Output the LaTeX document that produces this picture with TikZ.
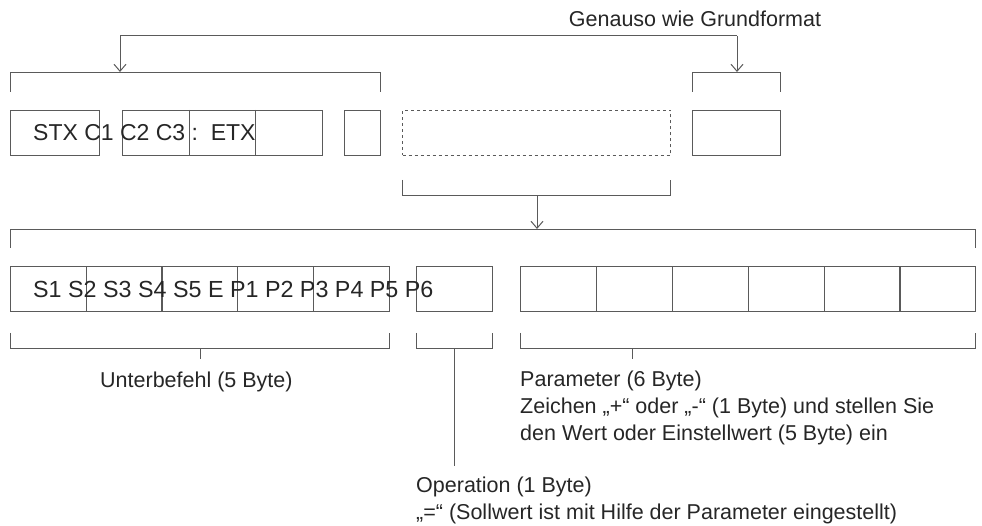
\documentclass[tikz,border=0pt]{standalone}
\usepackage{fontspec}
\setmainfont{Liberation Sans}
\usetikzlibrary{positioning,arrows.meta}
\definecolor{linegray}{RGB}{90,90,90}
\tikzset{
  cell/.style={draw=linegray, line width=1pt, minimum height=45pt, inner sep=0pt, anchor=north west},
  brk/.style={draw=linegray, line width=1pt},
  pfeil/.style={brk, -{Straight Barb[length=7pt,width=12pt]}},
  lbl/.style={font=\fontsize{21.5}{27}\selectfont, inner sep=0pt, align=left, text=black!85}
}
\begin{document}
\begin{tikzpicture}[x=1pt,y=-1pt]
  \useasboundingbox (0,0) rectangle (982,526);
  % upper row
  \node[cell, minimum width=89pt] (stx) at (10,110) {};
  \node[cell, minimum width=200pt] (cmd) at (122,110) {};
  \node[cell, minimum width=36pt] (bcc) at (344,110) {};
  \node[cell, minimum width=268pt, dashed] (ins) at (402,110) {};
  \node[cell, minimum width=88pt] (crc) at (692,110) {};
  \draw[brk] (189,110) -- (189,155) (255,110) -- (255,155);
  \node[lbl, font=\fontsize{23}{26}\selectfont, anchor=west] (txtA) at (33,133) {STX C1 C2 C3 :\ \ ETX};
  % brackets above upper row
  \coordinate (a1) at (120,36);
  \coordinate (a2) at (737,36);
  \draw[brk] (10,92) -- (10,73) -- (380,73) -- (380,92);
  \draw[brk] (692,92) -- (692,73) -- (780,73) -- (780,92);
  \draw[brk] (a1) -- (a2);
  \draw[pfeil] (a1) -- (120,72);
  \draw[pfeil] (a2) -- (737,72);
  \node[lbl, anchor=south] (grund) at (695,27) {Genauso wie Grundformat};
  % expansion of dashed field
  \draw[brk] (402,180) -- (402,196) -- (670,196) -- (670,180);
  \coordinate (m) at (537,196);
  \draw[pfeil] (m) -- (537,229);
  \draw[brk] (10,248) -- (10,230) -- (975,230) -- (975,248);
  % lower row
  \foreach \x [count=\i] in {10,86,161,237,313}
    \node[cell, minimum width=76pt] (s\i) at (\x,266) {};
  \node[cell, minimum width=76pt] (op) at (416,266) {};
  \foreach \x [count=\i] in {520,596,672,748,824,899}
    \node[cell, minimum width=76pt] (p\i) at (\x,266) {};
  \node[lbl, font=\fontsize{23.3}{26}\selectfont, anchor=west] (txtB) at (33,289) {S1 S2 S3 S4 S5 E P1 P2 P3 P4 P5 P6};
  % brackets below lower row
  \draw[brk] (10,333) -- (10,349) -- (389,349) -- (389,333) (200,349) -- (200,359);
  \draw[brk] (416,333) -- (416,349) -- (492,349) -- (492,333) (454,349) -- (454,466);
  \draw[brk] (520,333) -- (520,349) -- (975,349) -- (975,333) (632,349) -- (632,359);
  \node[lbl, anchor=north west] (unter) at (100,372) {Unterbefehl (5 Byte)};
  \node[lbl, anchor=north west] (param) at (520,371) {Parameter (6 Byte)\\Zeichen „+“ oder „-“ (1 Byte) und stellen Sie\\den Wert oder Einstellwert (5 Byte) ein};
  \node[lbl, anchor=north west] (oper) at (416,477) {Operation (1 Byte)\\„=“ (Sollwert ist mit Hilfe der Parameter eingestellt)};
\end{tikzpicture}
\end{document}
